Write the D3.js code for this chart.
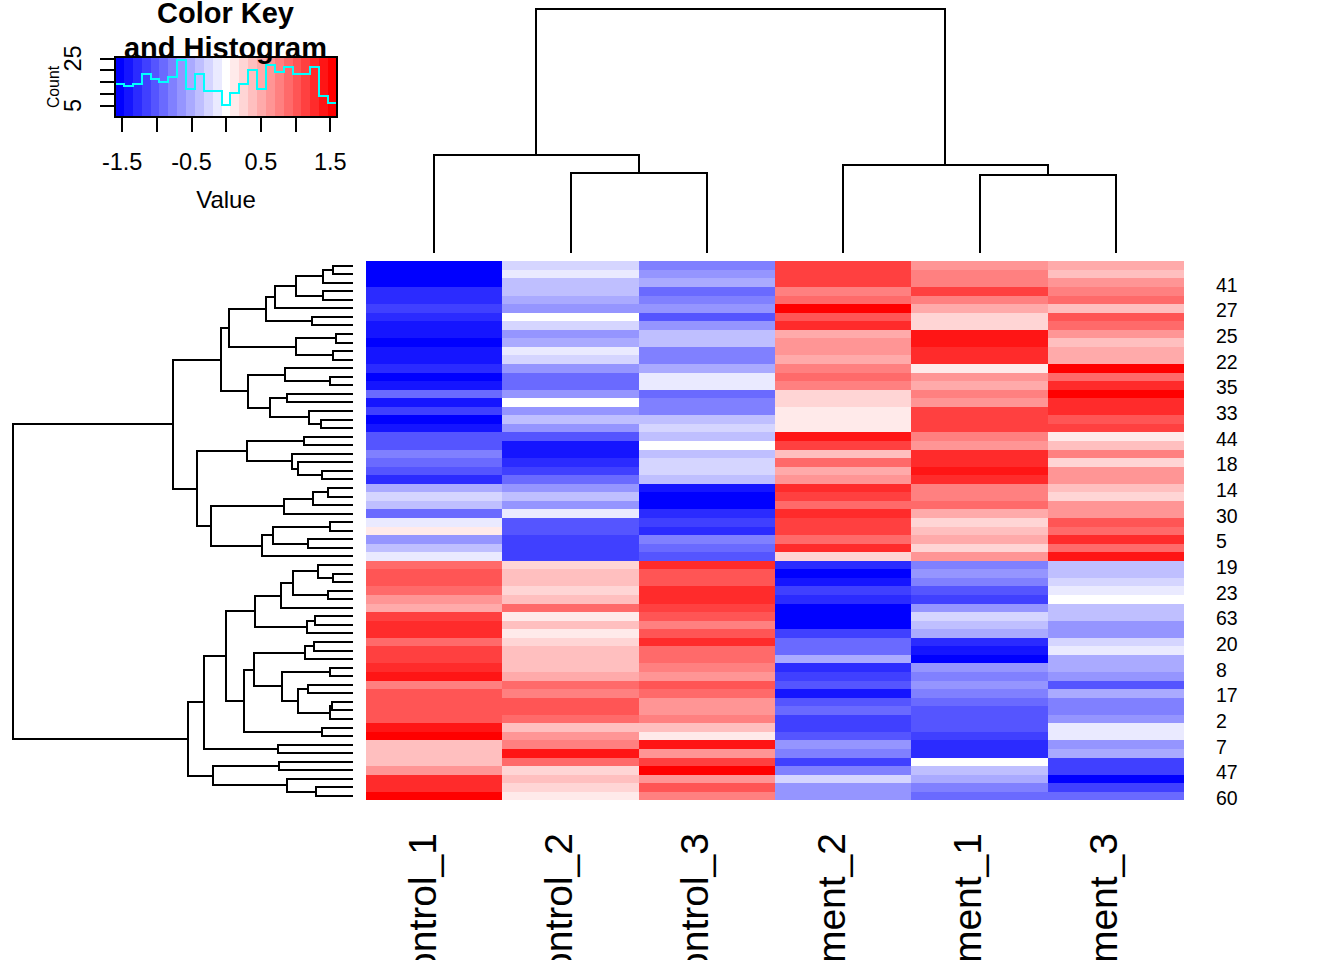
<!DOCTYPE html>
<html>
<head>
<meta charset="utf-8">
<script src="https://cdn.jsdelivr.net/npm/d3@7"></script>
<style>
html,body{margin:0;padding:0;background:#fff;overflow:hidden}
svg{display:block}
text{font-family:"Liberation Sans",Arial,sans-serif;fill:#000}
</style>
</head>
<body>
<svg id="chart" width="1344" height="960"></svg>
<script>
// Column order and labels
const columnLabels = ["control_1","control_2","control_3","treatment_2","treatment_1","treatment_3"];

// Colour-bin level of each heat-map cell (-12 = blue, 0 = white, 12 = red), top row first
const control1 = [-12,-12,-12,-10,-10,-9,-10,-11,-11,-12,-11,-11,-10,-12,-11,-7,-11,-9,-12,-11,-8,-8,-6,-7,-8,-10,-4,-2,-3,-7,-1,1,-5,-3,-1,7,8,8,7,5,4,9,10,10,7,9,9,10,11,6,8,8,8,8,11,12,3,3,3,5,10,10,12];
const control2 = [-2,-1,-3,-3,-4,-5,0,-2,-5,-4,-1,-2,-5,-7,-7,-5,0,-5,-3,-5,-8,-11,-11,-10,-9,-7,-5,-3,-5,-1,-8,-8,-9,-9,-9,2,3,3,2,3,7,1,3,1,2,3,3,3,4,7,6,8,8,7,3,5,6,11,7,2,3,2,1];
const control3 = [-6,-5,-4,-7,-6,-5,-8,-5,-3,-3,-6,-6,-4,-1,-1,-7,-6,-6,-3,-2,-3,0,-3,-2,-2,-3,-11,-12,-12,-10,-9,-10,-6,-7,-8,10,8,8,10,10,9,8,6,8,10,7,7,6,5,8,7,5,5,6,3,1,11,5,9,12,5,8,6];
const treatment2 = [9,9,9,6,7,12,8,10,4,5,5,4,6,7,6,2,2,1,1,1,11,9,3,7,4,5,10,9,7,10,9,9,7,10,2,-10,-12,-11,-9,-10,-12,-12,-12,-9,-7,-7,-4,-10,-9,-8,-11,-8,-7,-9,-9,-8,-5,-6,-9,-6,-2,-5,-5];
const treatment1 = [5,6,6,9,6,4,2,2,11,11,10,10,1,5,4,6,5,9,9,9,6,5,10,10,11,10,6,6,7,4,2,3,4,2,5,-6,-5,-6,-8,-9,-5,-2,-3,-4,-10,-11,-12,-5,-6,-5,-6,-7,-8,-8,-8,-9,-10,-10,0,-3,-4,-6,-7];
const treatment3 = [4,3,5,6,7,3,8,7,5,3,4,4,12,7,10,12,10,10,8,9,1,3,6,2,5,5,3,2,5,5,8,7,10,7,11,-3,-3,-2,-1,0,-3,-3,-5,-5,-2,-1,-4,-4,-5,-8,-4,-6,-6,-5,-1,-1,-5,-4,-9,-9,-12,-9,-7];
const heatColumns = [control1,control2,control3,treatment2,treatment1,treatment3];

// Row labels shown on every third row
const rowLabelRows = [2,5,8,11,14,17,20,23,26,29,32,35,38,41,44,47,50,53,56,59,62];
const rowLabels = ["41","27","25","22","35","33","44","18","14","30","5","19","23","63","20","8","17","2","7","47","60"];

// Dendrograms: [height, left child, right child]; a number child is a leaf index
const rowTree = [8.5,
  [4.5,
    [3.3,
      [3.1,
        [2.175,
          [1.95,[1.425,[.75,[.5,0,1],2],[.75,3,4]],5],
          [1.025,6,7]],
        [1.425,[.425,8,9],[.5,10,11]]],
      [2.625,
        [1.7,12,[.575,13,14]],
        [2.075,[1.65,15,16],[1.1,17,[.8,18,19]]]]],
    [3.9,
      [2.65,
        [1.225,20,21],
        [1.525,22,[1.375,23,[.775,24,25]]]],
      [3.55,
        [1.725,[1.0,[.625,26,27],28],29],
        [2.275,[2.0,[.575,30,31],[1.125,32,33]],34]]]],
  [4.125,
    [3.725,
      [3.175,
        [2.45,
          [1.8,[1.5,[.875,35,[.5,36,37]],[.625,38,39]],40],
          [1.15,[.95,41,42],43]],
        [2.725,
          [2.475,
            [1.2,[.975,44,45],46],
            [1.775,[.575,47,48],[1.375,[1.125,49,50],[.575,[.5375,51,52],53]]]],
          [.775,54,55]]],
      [1.875,56,57]],
    [3.5,
      [1.85,58,59],
      [1.65,60,[.925,61,62]]]]];
const columnTree = [10,
  [4.02,0,[3.29,1,2]],
  [3.59,3,[3.2,4,5]]];

// Colour key: histogram counts per colour bin, and axis ticks
const keyLevels = d3.range(-12,13);
const keyCounts = [14,13,14,18,16,15,17,24,12,18,11,11,5,10,14,20,12,22,19,21,18,18,21,9,6];
const keyTicks = [-1.5,-1,-0.5,0,0.5,1,1.5];
const keyTickLabels = ["-1.5","","-0.5","","0.5","","1.5"];
const countTicks = [5,10,15,20,25];
const countTickLabels = ["5","","","","25"];

const svg = d3.select("#chart");
const LW = 2;
const colour = d3.scaleLinear().domain([-12,0,12]).range(["#0000ff","#ffffff","#ff0000"]);

// Heat map
const xBand = d3.scaleBand().domain(d3.range(columnLabels.length)).range([366,1184]);
const yBand = d3.scaleBand().domain(d3.range(control1.length)).range([261.3,800.3]);
const cells = svg.append("g").attr("shape-rendering","crispEdges");
heatColumns.forEach((col,c)=>{
  cells.selectAll(null).data(col).join("rect")
    .attr("x",xBand(c)).attr("width",xBand.bandwidth())
    .attr("y",(d,r)=>yBand(r)).attr("height",yBand.bandwidth())
    .attr("fill",d=>colour(d));
});

// Dendrograms
function layoutTree(node, pos, hgt, path, horizontal){
  if(typeof node === "number") return {p:pos(node), h:0};
  const [h,l,r] = node;
  const a = layoutTree(l,pos,hgt,path,horizontal);
  const b = layoutTree(r,pos,hgt,path,horizontal);
  const pt = (p,v)=> horizontal ? [hgt(v),p] : [p,hgt(v)];
  const pts = [pt(a.p,a.h),pt(a.p,h),pt(b.p,h),pt(b.p,b.h)];
  path.push(d3.line()(pts));
  return {p:(a.p+b.p)/2, h};
}
const rowPos = i=>yBand(i)+yBand.bandwidth()/2;
const colPos = i=>xBand(i)+xBand.bandwidth()/2;
const rowH = d3.scaleLinear().domain([0,8.5]).range([353,13]);
const colH = d3.scaleLinear().domain([0,10]).range([253,8.7]);
const rowPaths = [], colPaths = [];
layoutTree(rowTree,rowPos,rowH,rowPaths,true);
layoutTree(columnTree,colPos,colH,colPaths,false);
svg.append("g").selectAll("path").data(rowPaths.concat(colPaths)).join("path")
  .attr("d",d=>d).attr("fill","none").attr("stroke","#000")
  .attr("stroke-width",LW).attr("stroke-linecap","butt").attr("stroke-linejoin","miter").attr("shape-rendering","crispEdges");

// Row labels
svg.append("g").selectAll("text").data(rowLabels).join("text")
  .attr("x",1216).attr("y",(d,i)=>rowPos(rowLabelRows[i])+9.1)
  .attr("font-size",19.5).text(d=>d);

// Column labels (run off the bottom of the page, as in the source figure)
svg.append("g").selectAll("text").data(columnLabels).join("text")
  .attr("transform",(d,i)=>`translate(${colPos(i)+1.5},833) rotate(-90)`)
  .attr("text-anchor","end").attr("font-size",39).text(d=>d);

// Colour key
const keyX = d3.scaleLinear().domain([-1.6,1.6]).range([115,337]);
const keyY = d3.scaleLinear().domain([5,25]).range([105,58]);
const binW = 3.2/keyLevels.length;
const keyBinLeft = i=>keyX(-1.6+i*binW);
svg.append("g").attr("shape-rendering","crispEdges").selectAll("rect").data(keyLevels).join("rect")
  .attr("x",(d,i)=>keyBinLeft(i)).attr("width",(d,i)=>keyBinLeft(i+1)-keyBinLeft(i))
  .attr("y",56.7).attr("height",60).attr("fill",d=>colour(d));

const histPoints = keyCounts.map((c,i)=>[keyBinLeft(i),keyY(c)]);
histPoints.push([keyBinLeft(keyCounts.length),keyY(keyCounts[keyCounts.length-1])]);
svg.append("path").attr("d",d3.line().curve(d3.curveStepAfter)(histPoints))
  .attr("fill","none").attr("stroke","#00ffff").attr("stroke-width",LW)
  .attr("shape-rendering","crispEdges");

svg.append("rect").attr("x",115).attr("y",56.7).attr("width",222).attr("height",60)
  .attr("fill","none").attr("stroke","#000").attr("stroke-width",LW).attr("shape-rendering","crispEdges");

const xAxisG = svg.append("g").attr("transform","translate(-0.3,116.7)")
  .call(d3.axisBottom(keyX).tickValues(keyTicks).tickSize(15.5)
    .tickFormat((d,i)=>keyTickLabels[i]));
xAxisG.select(".domain").remove();
xAxisG.selectAll("line").attr("stroke","#000").attr("stroke-width",LW).attr("shape-rendering","crispEdges");
xAxisG.selectAll("text").attr("y",53.3).attr("dy",0).attr("font-size",23.5).attr("font-family",'"Liberation Sans",Arial,sans-serif');

const yAxisG = svg.append("g").attr("transform","translate(115,0)")
  .call(d3.axisLeft(keyY).tickValues(countTicks).tickSize(15)
    .tickFormat((d,i)=>countTickLabels[i]));
yAxisG.select(".domain").remove();
yAxisG.selectAll("line").attr("stroke","#000").attr("stroke-width",LW).attr("shape-rendering","crispEdges");
yAxisG.selectAll("text").attr("x",0).attr("y",0).attr("dy",0)
  .attr("transform","translate(-33.8,0) rotate(-90)").attr("text-anchor","middle")
  .attr("font-size",23.5).attr("font-family",'"Liberation Sans",Arial,sans-serif');

svg.append("text").attr("x",226).attr("y",208).attr("text-anchor","middle").attr("font-size",24).text("Value");
svg.append("text").attr("transform","translate(59.3,87) rotate(-90)").attr("text-anchor","middle").attr("font-size",15.8).text("Count");
svg.append("text").attr("x",225.5).attr("y",23).attr("text-anchor","middle").attr("font-size",29).attr("font-weight","bold").text("Color Key");
svg.append("text").attr("x",225.5).attr("y",58).attr("text-anchor","middle").attr("font-size",29).attr("font-weight","bold").text("and Histogram");
</script>
</body>
</html>
